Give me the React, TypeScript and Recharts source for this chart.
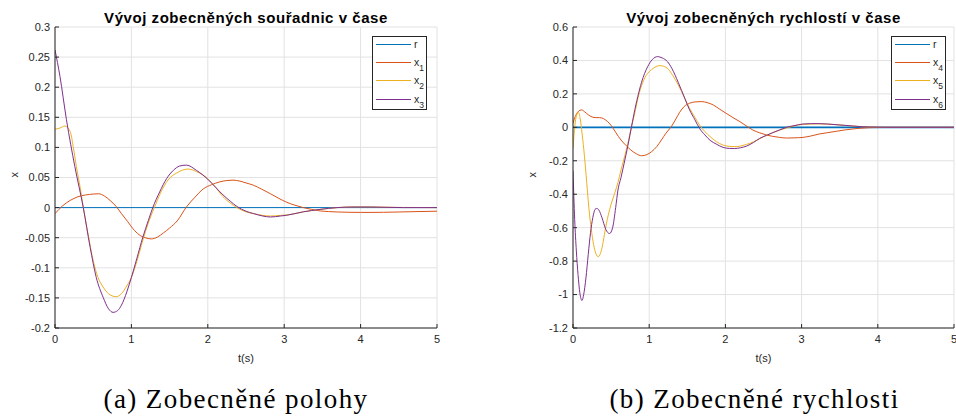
import { LineChart, Line, XAxis, YAxis, CartesianGrid } from 'recharts';

const FONT = '"Liberation Sans", Arial, Helvetica, sans-serif';
const SERIF = '"Liberation Serif", "Times New Roman", serif';
const AXIS = '#262626';
const GRID = '#e2e2e2';

const BLUE = '#0072BD';
const ORANGE = '#D95319';
const YELLOW = '#EDB120';
const PURPLE = '#7E2F8E';

// shared time axis
const tTicks = [0, 1, 2, 3, 4, 5];
const posTicks = [-0.2, -0.15, -0.1, -0.05, 0, 0.05, 0.1, 0.15, 0.2, 0.25, 0.3];
const velTicks = [-1.2, -1, -0.8, -0.6, -0.4, -0.2, 0, 0.2, 0.4, 0.6];

// reference r (zero)
const rT = [0, 5];
const rV = [0, 0];

// generalized coordinates x1..x3
const x1T = [0, 0.1, 0.2, 0.3, 0.4, 0.5, 0.57, 0.65, 0.72, 0.8, 0.87, 0.95, 1.02, 1.1, 1.18, 1.26, 1.34, 1.42, 1.5, 1.6,
  1.72, 1.83, 1.94, 2.05, 2.15, 2.25, 2.33, 2.42, 2.5, 2.6, 2.7, 2.82, 2.92, 3.03, 3.14, 3.25, 3.36, 3.47, 3.58, 3.7,
  3.85, 4.0, 4.15, 4.3, 4.5, 4.75, 5.0];
const x1V = [-0.01, 0.003, 0.012, 0.018, 0.021, 0.0225, 0.023, 0.019, 0.012, 0.002, -0.01, -0.023, -0.035, -0.045, -0.05, -0.052, -0.049, -0.042, -0.034, -0.022,
  0.001, 0.017, 0.031, 0.038, 0.0425, 0.045, 0.0456, 0.044, 0.041, 0.037, 0.031, 0.023, 0.016, 0.009, 0.004, 0.0, -0.003, -0.0055, -0.0066, -0.0073,
  -0.0078, -0.008, -0.008, -0.0078, -0.0073, -0.0066, -0.006];

const x2T = [0, 0.06, 0.13, 0.2, 0.24, 0.28, 0.33, 0.37, 0.43, 0.5, 0.56, 0.63, 0.7, 0.8, 0.87, 0.93, 1.0, 1.07, 1.15, 1.22,
  1.3, 1.38, 1.48, 1.6, 1.74, 1.85, 2.0, 2.1, 2.2, 2.3, 2.38, 2.5, 2.6, 2.72, 2.82, 2.95, 3.05, 3.25, 3.47, 3.7,
  3.9, 4.13, 4.5, 5.0];
const x2V = [0.13, 0.132, 0.1355, 0.126, 0.1, 0.068, 0.033, 0.001, -0.042, -0.088, -0.115, -0.132, -0.143, -0.148, -0.143, -0.132, -0.116, -0.09, -0.054, -0.026,
  0.0, 0.024, 0.046, 0.058, 0.064, 0.06, 0.048, 0.034, 0.018, 0.007, 0.0, -0.007, -0.01, -0.013, -0.014, -0.013, -0.012, -0.007, -0.003, 0.0,
  0.001, 0.001, 0.0003, 0.0];

const x3T = [0, 0.065, 0.15, 0.26, 0.37, 0.46, 0.54, 0.63, 0.7, 0.76, 0.82, 0.87, 0.94, 1.0, 1.07, 1.15, 1.22, 1.28, 1.37, 1.46,
  1.55, 1.63, 1.72, 1.85, 2.0, 2.1, 2.2, 2.3, 2.38, 2.5, 2.6, 2.72, 2.82, 2.95, 3.03, 3.25, 3.47, 3.69, 3.9, 4.13,
  4.56, 5.0];
const x3V = [0.262, 0.218, 0.146, 0.068, 0.0, -0.066, -0.116, -0.149, -0.168, -0.174, -0.171, -0.162, -0.14, -0.116, -0.085, -0.049, -0.022, 0.0, 0.026, 0.048,
  0.062, 0.069, 0.0706, 0.062, 0.047, 0.034, 0.021, 0.01, 0.002, -0.006, -0.01, -0.014, -0.0156, -0.014, -0.0128, -0.007, -0.003, 0.0, 0.001, 0.001,
  0.0, 0.0];

// generalized velocities x4..x6
const x4T = [0, 0.03, 0.06, 0.09, 0.115, 0.15, 0.2, 0.25, 0.3, 0.35, 0.4, 0.45, 0.5, 0.56, 0.63, 0.7, 0.76, 0.83, 0.9, 0.97,
  1.03, 1.1, 1.16, 1.22, 1.29, 1.35, 1.4, 1.46, 1.53, 1.6, 1.69, 1.76, 1.84, 1.92, 2.01, 2.1, 2.19, 2.27, 2.36, 2.45,
  2.54, 2.62, 2.71, 2.8, 2.9, 3.02, 3.12, 3.23, 3.34, 3.45, 3.56, 3.67, 3.78, 3.89, 4.1, 4.5, 5.0];
const x4V = [0.025, 0.065, 0.09, 0.102, 0.104, 0.094, 0.075, 0.062, 0.058, 0.058, 0.052, 0.036, 0.012, -0.03, -0.076, -0.11, -0.136, -0.158, -0.17, -0.163,
  -0.146, -0.115, -0.076, -0.035, 0.004, 0.05, 0.09, 0.125, 0.144, 0.152, 0.154, 0.148, 0.134, 0.11, 0.084, 0.058, 0.034, 0.01, -0.016, -0.033,
  -0.046, -0.054, -0.06, -0.064, -0.063, -0.06, -0.052, -0.04, -0.032, -0.024, -0.016, -0.01, -0.005, -0.002, 0.0, 0.0, 0.0];

const x5T = [0, 0.02, 0.04, 0.07, 0.095, 0.12, 0.15, 0.18, 0.21, 0.24, 0.27, 0.3, 0.33, 0.36, 0.39, 0.42, 0.46, 0.5, 0.55, 0.59,
  0.63, 0.68, 0.72, 0.76, 0.81, 0.85, 0.895, 0.96, 1.03, 1.09, 1.135, 1.19, 1.25, 1.31, 1.38, 1.47, 1.53, 1.6, 1.66, 1.73,
  1.8, 1.88, 1.97, 2.05, 2.14, 2.23, 2.32, 2.41, 2.5, 2.6, 2.7, 2.8, 2.9, 3.02, 3.12, 3.23, 3.34, 3.45, 3.56, 3.67,
  3.78, 3.89, 4.1, 4.5, 5.0];
const x5V = [-0.126, -0.01, 0.06, 0.09, 0.05, -0.04, -0.17, -0.33, -0.49, -0.61, -0.7, -0.755, -0.774, -0.755, -0.7, -0.62, -0.53, -0.46, -0.39, -0.33,
  -0.255, -0.17, -0.096, -0.01, 0.084, 0.17, 0.243, 0.31, 0.345, 0.363, 0.369, 0.365, 0.348, 0.31, 0.255, 0.17, 0.114, 0.06, 0.014, -0.025,
  -0.056, -0.085, -0.106, -0.114, -0.116, -0.108, -0.096, -0.078, -0.056, -0.036, -0.018, -0.004, 0.008, 0.018, 0.02, 0.021, 0.019, 0.016, 0.012, 0.008,
  0.004, 0.002, 0.0, 0.0, 0.0];

const x6T = [0, 0.022, 0.044, 0.066, 0.09, 0.118, 0.14, 0.17, 0.2, 0.23, 0.26, 0.29, 0.31, 0.34, 0.38, 0.43, 0.48, 0.52, 0.56, 0.59,
  0.63, 0.68, 0.72, 0.76, 0.8, 0.85, 0.9, 0.98, 1.04, 1.11, 1.17, 1.24, 1.3, 1.38, 1.47, 1.53, 1.6, 1.66, 1.73, 1.8,
  1.88, 1.97, 2.05, 2.12, 2.2, 2.28, 2.37, 2.45, 2.54, 2.62, 2.71, 2.8, 2.9, 3.02, 3.12, 3.23, 3.34, 3.45, 3.56, 3.67,
  3.78, 3.89, 4.1, 4.5, 5.0];
const x6V = [-0.26, -0.55, -0.74, -0.88, -0.99, -1.035, -1.0, -0.9, -0.76, -0.63, -0.54, -0.49, -0.485, -0.495, -0.54, -0.61, -0.635, -0.6, -0.48, -0.375,
  -0.3, -0.196, -0.11, -0.016, 0.08, 0.184, 0.27, 0.363, 0.405, 0.423, 0.415, 0.393, 0.35, 0.27, 0.17, 0.104, 0.045, -0.006, -0.045, -0.078,
  -0.1, -0.12, -0.126, -0.127, -0.122, -0.112, -0.09, -0.066, -0.048, -0.032, -0.016, 0.0, 0.01, 0.02, 0.022, 0.022, 0.02, 0.016, 0.012, 0.008,
  0.004, 0.002, 0.0, 0.0, 0.0];

type Series = { name: string; color: string; width: number; t: number[]; v: number[] };

const zip = (t: number[], v: number[]) => t.map((x, i) => ({ t: x, v: v[i] }));

const posSeries: Series[] = [
  { name: 'r', color: BLUE, width: 1, t: rT, v: rV },
  { name: 'x1', color: ORANGE, width: 1, t: x1T, v: x1V },
  { name: 'x2', color: YELLOW, width: 1, t: x2T, v: x2V },
  { name: 'x3', color: PURPLE, width: 1, t: x3T, v: x3V },
];

const velSeries: Series[] = [
  { name: 'r', color: BLUE, width: 1.6, t: rT, v: rV },
  { name: 'x4', color: ORANGE, width: 1, t: x4T, v: x4V },
  { name: 'x5', color: YELLOW, width: 1, t: x5T, v: x5V },
  { name: 'x6', color: PURPLE, width: 1, t: x6T, v: x6V },
];

const ROWS = [7, 25, 43.7, 62.3];

function LegendBox({ series, left }: { series: Series[]; left: number }) {
  return (
    <div
      style={{
        position: 'absolute', left, top: 36, width: 55, height: 74, boxSizing: 'border-box',
        border: `1px solid ${AXIS}`, background: '#fff', fontFamily: FONT, color: AXIS,
      }}
    >
      {series.map((s, i) => (
        <div key={s.name} style={{ position: 'absolute', left: 3, top: ROWS[i] - 7, height: 14, display: 'flex', alignItems: 'center' }}>
          <div style={{ width: 35, height: 0, borderTop: `1px solid ${s.color}` }} />
          <span style={{ marginLeft: 3, fontSize: 10.5, lineHeight: '14px', whiteSpace: 'nowrap' }}>
            {s.name[0]}
            {s.name.length > 1 && (
              <span style={{ fontSize: 8.5, position: 'relative', top: 5 }}>{s.name.slice(1)}</span>
            )}
          </span>
        </div>
      ))}
    </div>
  );
}

type PanelProps = {
  x: number;
  width: number;
  plotLeft: number;
  plotRight: number;
  title: string;
  caption: string;
  captionCenter: number;
  series: Series[];
  domain: [number, number];
  ticks: number[];
  legendLeft: number;
};

function Panel(p: PanelProps) {
  const H = 380;
  return (
    <div style={{ position: 'absolute', left: p.x, top: 0, width: p.width, height: 417 }}>
      <div
        style={{
          position: 'absolute', left: p.plotLeft - 40, width: p.plotRight - p.plotLeft + 80, top: 10,
          textAlign: 'center', fontFamily: FONT, fontWeight: 'bold', fontSize: 15, lineHeight: '16px',
          letterSpacing: 0.55, color: '#000', whiteSpace: 'nowrap',
        }}
      >
        {p.title}
      </div>
      <LineChart
        width={p.width}
        height={H}
        margin={{ top: 27, right: p.width - p.plotRight, bottom: 18, left: p.plotLeft - 45 }}
        style={{ fontFamily: FONT }}
      >
        <CartesianGrid stroke={GRID} />
        <XAxis
          dataKey="t" type="number" domain={[0, 5]} ticks={tTicks} allowDataOverflow height={34}
          tickSize={-4} tickMargin={11} stroke={AXIS} tick={{ fill: AXIS, fontSize: 11 }}
          label={{ value: 't(s)', position: 'insideBottom', offset: 0, fill: AXIS, fontSize: 11 }}
        />
        <XAxis
          xAxisId="top" orientation="top" dataKey="t" type="number" domain={[0, 5]} ticks={tTicks}
          height={0} mirror tick={false} tickSize={4} stroke={AXIS}
        />
        <YAxis
          type="number" domain={p.domain} ticks={p.ticks} allowDataOverflow width={45}
          tickSize={-4} tickMargin={9} stroke={AXIS} tick={{ fill: AXIS, fontSize: 11 }}
          label={{ value: 'x', angle: -90, position: 'insideLeft', offset: 4, fill: AXIS, fontSize: 11 }}
        />
        <YAxis
          yAxisId="right" orientation="right" type="number" domain={p.domain} ticks={p.ticks}
          width={0} mirror tick={false} tickSize={4} stroke={AXIS}
        />
        {p.series.map((s) => (
          <Line
            key={s.name}
            data={zip(s.t, s.v)}
            dataKey="v"
            name={s.name}
            type="monotone"
            stroke={s.color}
            strokeWidth={s.width}
            dot={false}
            activeDot={false}
            isAnimationActive={false}
          />
        ))}
      </LineChart>
      <LegendBox series={p.series} left={p.legendLeft} />
      <div
        style={{
          position: 'absolute', left: p.captionCenter - 200, width: 400, top: 386, textAlign: 'center',
          fontFamily: SERIF, fontSize: 27, lineHeight: '27px', letterSpacing: 1.4, color: '#000', whiteSpace: 'nowrap',
        }}
      >
        {p.caption}
      </div>
    </div>
  );
}

export default function App() {
  return (
    <div style={{ position: 'fixed', left: 0, top: 0, width: 956, height: 417, overflow: 'hidden', background: '#fff' }}>
      <Panel
        x={0} width={478} plotLeft={55} plotRight={437}
        title="Vývoj zobecněných souřadnic v čase"
        caption="(a) Zobecněné polohy" captionCenter={236}
        series={posSeries} domain={[-0.2, 0.3]} ticks={posTicks} legendLeft={372}
      />
      <Panel
        x={478} width={500} plotLeft={95} plotRight={476}
        title="Vývoj zobecněných rychlostí v čase"
        caption="(b) Zobecněné rychlosti" captionCenter={276.5}
        series={velSeries} domain={[-1.2, 0.6]} ticks={velTicks} legendLeft={413}
      />
    </div>
  );
}
